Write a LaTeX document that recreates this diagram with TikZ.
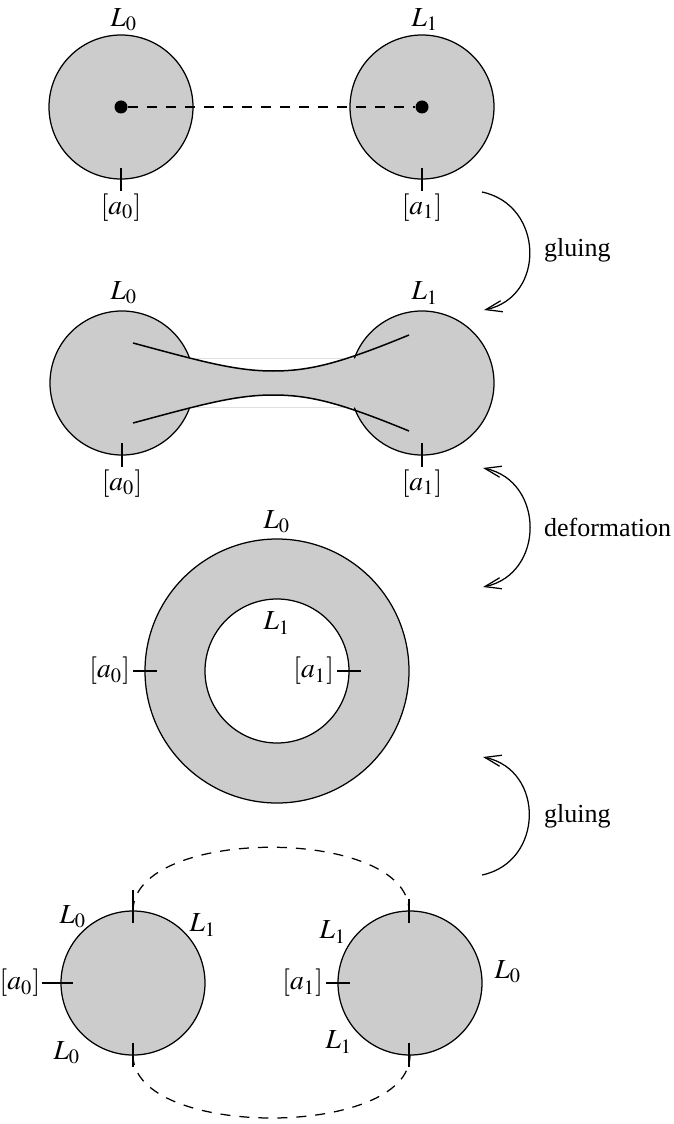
\documentclass[tikz,border=0pt]{standalone}
\usepackage{mathptmx}
\usepackage{fontspec}
\setmainfont{Liberation Serif}
\usetikzlibrary{arrows.meta}

\begin{document}
\begin{tikzpicture}[x=0.4pt,y=-0.4pt,line width=0.5pt,
    disc/.style={draw,fill=black!20},
    dot/.style={circle,fill=black,inner sep=0pt,minimum size=5.2pt},
    lbl/.style={inner sep=1pt,font=\fontsize{11}{13}\selectfont},
    txt/.style={inner sep=1pt,font=\fontsize{10.4}{12}\selectfont},
    dashline/.style={dash pattern=on 4pt off 3.6pt},
    barb/.tip={Straight Barb[length=6.5pt,width=4.5pt]}]
    \useasboundingbox (0,0) rectangle (673,1124);

    % two discs joined by a path
    \draw[disc] (121,107) circle[radius=72];
    \draw[disc] (422,107) circle[radius=72];
    \node[dot] (c0) at (121,107) {};
    \node[dot] (c1) at (422,107) {};
    \draw[dashline] (c0) -- (c1);
    \node[lbl] (top0) at (124,20) {$L_0$};
    \node[lbl] (top1) at (425,20) {$L_1$};
    \draw (121,168) -- (121,191);
    \draw (422,168) -- (422,191);
    \node[lbl,anchor=north] (pa0) at (121,191) {$[a_0]$};
    \node[lbl,anchor=north] (pa1) at (422,191) {$[a_1]$};

    % glued discs
    \fill[black!20] (122,383) circle[radius=72] (422,383) circle[radius=72];
    \fill[black!20] (133,343) .. controls (200,361) and (235,371) .. (273,371)
        .. controls (310,371) and (341,363) .. (409,335) -- (409,431)
        .. controls (341,403) and (310,395) .. (273,395)
        .. controls (235,395) and (200,405) .. (133,423) -- cycle;
    \draw[black!12,line width=0.4pt] (190,359) -- (353,359) (192,407) -- (353,407);
    \draw (122,383) ++(20:72) arc[start angle=20,end angle=340,radius=72];
    \draw (422,383) ++(-160:72) arc[start angle=-160,end angle=160,radius=72];
    \draw[line width=0.6pt] (133,343) .. controls (200,361) and (235,371) .. (273,371)
        .. controls (310,371) and (341,363) .. (409,335);
    \draw[line width=0.6pt] (133,423) .. controls (200,405) and (235,395) .. (273,395)
        .. controls (310,395) and (341,403) .. (409,431);
    \node[lbl] (mid0) at (124,293) {$L_0$};
    \node[lbl] (mid1) at (425,293) {$L_1$};
    \draw (122,443) -- (122,467);
    \draw (422,443) -- (422,467);
    \node[lbl,anchor=north] (pb0) at (122,467) {$[a_0]$};
    \node[lbl,anchor=north] (pb1) at (422,467) {$[a_1]$};

    % annulus
    \fill[black!20,even odd rule] (277,671) circle[radius=132] (277,671) circle[radius=72];
    \draw (277,671) circle[radius=132];
    \draw (277,671) circle[radius=72];
    \node[lbl] (ring0) at (277,522) {$L_0$};
    \node[lbl] (ring1) at (277,623) {$L_1$};
    \draw (133,671) -- (157,671);
    \draw (337,671) -- (361,671);
    \node[lbl,anchor=east] (pc0) at (133,671) {$[a_0]$};
    \node[lbl,anchor=east] (pc1) at (337,671) {$[a_1]$};

    % two discs with glued boundary arcs
    \draw[dashline] (133,911) .. controls (133,826) and (409,826) .. (409,911);
    \draw[dashline] (133,1055) .. controls (133,1139) and (410,1139) .. (410,1055);
    \draw[disc] (133,983) circle[radius=72];
    \draw[disc] (410,983) circle[radius=72];
    \draw (133,890) -- (133,923);
    \draw (133,1043) -- (133,1067);
    \draw (42,983) -- (73,983);
    \draw (409,899) -- (409,923);
    \draw (409,1043) -- (409,1067);
    \draw (326,983) -- (350,983);
    \node[lbl] (ba) at (73,917) {$L_0$};
    \node[lbl] (bb) at (203,925) {$L_1$};
    \node[lbl] (bc) at (67,1053) {$L_0$};
    \node[lbl,anchor=east,inner sep=0.5pt] (pd0) at (42,983) {$[a_0]$};
    \node[lbl] (bd) at (333,932) {$L_1$};
    \node[lbl] (be) at (508,972) {$L_0$};
    \node[lbl] (bf) at (339,1042) {$L_1$};
    \node[lbl,anchor=east] (pd1) at (326,983) {$[a_1]$};

    % arrows between the stages
    \coordinate (g1s) at (482,192);
    \coordinate (g1e) at (484,310);
    \coordinate (d1s) at (483,468);
    \coordinate (d1e) at (483,587);
    \coordinate (g2s) at (483,757);
    \coordinate (g2e) at (482,875);
    \draw[-barb] (g1s) .. controls (544,205) and (546,297) .. (g1e);
    \draw[barb-barb] (d1s) .. controls (545,481) and (545,574) .. (d1e);
    \draw[barb-] (g2s) .. controls (545,770) and (544,862) .. (g2e);
    \node[txt,anchor=west] (glue1) at (541,250) {gluing};
    \node[txt,anchor=west] (deform) at (541,527) {deformation};
    \node[txt,anchor=west] (glue2) at (541,816) {gluing};
\end{tikzpicture}
\end{document}
